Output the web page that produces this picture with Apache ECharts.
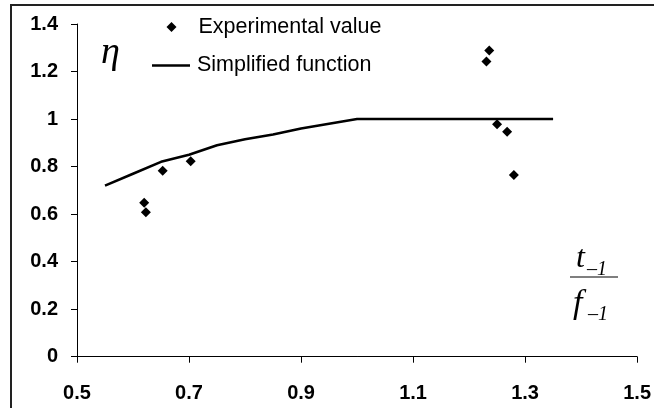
<!DOCTYPE html>
<html>
<head>
<meta charset="utf-8">
<script src="https://cdn.jsdelivr.net/npm/echarts@6/dist/echarts.min.js"></script>
<style>
  html, body { margin: 0; padding: 0; background: #fff; }
  #chart { width: 654px; height: 408px; }
</style>
</head>
<body>
<div id="chart"></div>
<script>
// Ratio t_-1 / f_-1 against the efficiency factor eta
const expRatio  = [0.620, 0.623, 0.653, 0.703, 1.236, 1.231, 1.250, 1.268, 1.280];
const expEta    = [0.648, 0.608, 0.782, 0.822, 1.288, 1.242, 0.978, 0.947, 0.765];

const fnRatio   = [0.55, 0.60, 0.65, 0.70, 0.75, 0.80, 0.85, 0.90, 0.95, 1.00, 1.35];
const fnEta     = [0.72, 0.77, 0.82, 0.85, 0.89, 0.915, 0.935, 0.96, 0.98, 1.00, 1.00];

const xTicks = [0.5, 0.7, 0.9, 1.1, 1.3, 1.5];
const yTicks = [0, 0.2, 0.4, 0.6, 0.8, 1, 1.2, 1.4];

const SANS = '"Liberation Sans", Arial, sans-serif';
const SERIF = '"Liberation Serif", "Times New Roman", serif';

const chart = echarts.init(document.getElementById('chart'));

const pairs = (xs, ys) => xs.map((x, i) => [x, ys[i]]);

chart.setOption({
  animation: false,
  backgroundColor: '#fff',
  grid: { left: 77, right: 12, top: 24, bottom: 51.3, containLabel: false },
  xAxis: {
    type: 'value',
    min: xTicks[0], max: xTicks[xTicks.length - 1], interval: 0.2,
    axisLine: { lineStyle: { color: '#000', width: 1 } },
    axisTick: { show: true, length: 6, lineStyle: { color: '#000' } },
    splitLine: { show: false },
    axisLabel: {
      margin: 27, color: '#000', fontFamily: SANS, fontWeight: 'bold', fontSize: 20,
      formatter: v => v.toFixed(1)
    }
  },
  yAxis: {
    type: 'value',
    min: yTicks[0], max: yTicks[yTicks.length - 1], interval: 0.2,
    axisLine: { show: true, lineStyle: { color: '#000', width: 1 } },
    axisTick: { show: true, length: 6, lineStyle: { color: '#000' } },
    splitLine: { show: false },
    axisLabel: {
      margin: 19, color: '#000', fontFamily: SANS, fontWeight: 'bold', fontSize: 20,
      formatter: v => String(Math.round(v * 10) / 10)
    }
  },
  legend: [
    {
      data: [{ name: 'Experimental value', icon: 'diamond' }],
      left: 166.5, top: 16, padding: 0,
      itemWidth: 10, itemHeight: 10,
      textStyle: { fontFamily: SANS, fontSize: 21.5, color: '#000', padding: [0, 0, 0, 17] }
    },
    {
      data: [{ name: 'Simplified function', icon: 'rect' }],
      left: 152, top: 54.5, padding: 0,
      itemWidth: 38, itemHeight: 2.6,
      textStyle: { fontFamily: SANS, fontSize: 21.5, color: '#000', padding: [0, 0, 0, 2] }
    }
  ],
  series: [
    {
      name: 'Simplified function',
      type: 'line',
      data: pairs(fnRatio, fnEta),
      symbol: 'none',
      lineStyle: { color: '#000', width: 2.6 },
      itemStyle: { color: '#000' },
      z: 2
    },
    {
      name: 'Experimental value',
      type: 'scatter',
      data: pairs(expRatio, expEta),
      symbol: 'diamond',
      symbolSize: 10,
      itemStyle: { color: '#000', opacity: 1 },
      z: 3
    }
  ],
  graphic: [
    {
      type: 'rect', silent: true,
      shape: { x: 11, y: 5, width: 700, height: 500 },
      style: { fill: 'none', stroke: '#222', lineWidth: 2 }
    },
    {
      type: 'text', x: 101, y: 34,
      style: { text: 'η', font: 'italic 38px ' + SERIF, fill: '#000' }
    },
    // fraction label t_-1 / f_-1
    {
      type: 'text', x: 576, y: 243,
      style: { text: 't', font: 'italic 32px ' + SERIF, fill: '#000' }
    },
    {
      type: 'text', x: 587, y: 260,
      style: { text: '\u20131', font: 'italic 20px ' + SERIF, fill: '#000' }
    },
    {
      type: 'line',
      shape: { x1: 570, y1: 277, x2: 618, y2: 277 },
      style: { stroke: '#000', lineWidth: 1.2 }
    },
    {
      type: 'text', x: 573, y: 287,
      style: { text: 'f', font: 'italic 34px ' + SERIF, fill: '#000' }
    },
    {
      type: 'text', x: 588, y: 305,
      style: { text: '\u20131', font: 'italic 20px ' + SERIF, fill: '#000' }
    }
  ]
});
</script>
</body>
</html>
